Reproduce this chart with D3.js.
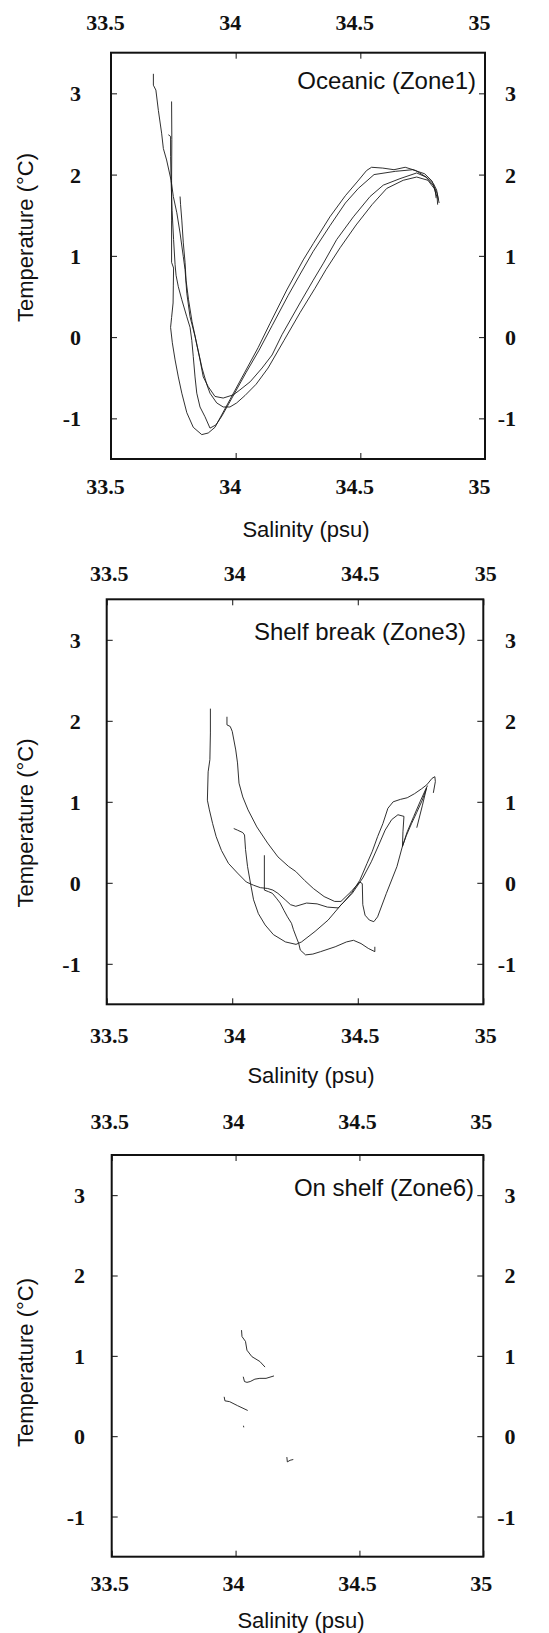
<!DOCTYPE html>
<html>
<head>
<meta charset="utf-8">
<script src="https://cdn.jsdelivr.net/npm/d3@7"></script>
<style>
  html, body { margin: 0; padding: 0; background: #fff; }
  svg { display: block; }
</style>
</head>
<body>
<svg id="chart" width="549" height="1633"></svg>
<script>
// Axis ticks and text
const salinityTicks = [33.5, 34, 34.5, 35];
const temperatureTicks = [-1, 0, 1, 2, 3];
const salinityDomain = [33.5, 35];
const temperatureDomain = [-1.5, 3.5];
const panelTitles = ["Oceanic (Zone1)", "Shelf break (Zone3)", "On shelf (Zone6)"];
const xAxisTitle = "Salinity (psu)";
const yAxisTitle = "Temperature (°C)";

// Zone 1 (oceanic) T-S profiles: [salinity, temperature]
const zone1Profile1 = [[33.743,2.90],[33.744,2.43],[33.743,1.93],[33.743,1.44],[33.743,0.92],[33.751,0.85],[33.750,0.64],[33.749,0.42],[33.743,0.24],[33.739,0.12],[33.746,-0.07],[33.757,-0.28],[33.770,-0.49],[33.784,-0.69],[33.804,-0.93],[33.830,-1.11],[33.864,-1.20],[33.890,-1.18],[33.917,-1.11],[33.977,-0.77],[34.037,-0.43],[34.090,-0.13],[34.138,0.17],[34.205,0.58],[34.271,0.95],[34.311,1.15],[34.378,1.48],[34.440,1.74],[34.490,1.92],[34.525,2.05],[34.545,2.09],[34.590,2.08],[34.635,2.06],[34.680,2.09],[34.722,2.05],[34.764,1.97],[34.793,1.89],[34.806,1.81],[34.813,1.69]];
const zone1Profile2 = [[33.730,2.49],[33.739,2.47],[33.739,2.22],[33.741,1.93],[33.745,1.56],[33.751,1.20],[33.757,0.89],[33.761,0.76],[33.770,0.62],[33.784,0.46],[33.804,0.25],[33.817,0.12],[33.824,-0.04],[33.830,-0.24],[33.837,-0.49],[33.844,-0.69],[33.857,-0.86],[33.877,-0.98],[33.897,-1.12],[33.921,-1.08],[33.945,-0.97],[33.985,-0.75],[34.041,-0.44],[34.094,-0.16],[34.146,0.14],[34.210,0.51],[34.254,0.75],[34.310,1.05],[34.378,1.37],[34.440,1.65],[34.492,1.83],[34.555,2.00],[34.640,2.04],[34.710,2.06],[34.758,2.01],[34.788,1.92],[34.800,1.81],[34.804,1.71]];
const zone1Profile3 = [[33.670,3.24],[33.670,3.10],[33.680,3.04],[33.690,2.79],[33.703,2.51],[33.710,2.32],[33.723,2.18],[33.741,1.93],[33.750,1.73],[33.764,1.53],[33.777,1.28],[33.790,0.99],[33.797,0.83],[33.804,0.54],[33.817,0.25],[33.837,0.01],[33.857,-0.28],[33.870,-0.49],[33.890,-0.61],[33.917,-0.73],[33.950,-0.75],[33.991,-0.71],[34.017,-0.65],[34.058,-0.55],[34.106,-0.38],[34.146,-0.22],[34.186,0.03],[34.258,0.42],[34.311,0.70],[34.352,0.91],[34.405,1.20],[34.472,1.48],[34.539,1.73],[34.592,1.87],[34.659,1.95],[34.726,2.02],[34.763,1.97],[34.792,1.87],[34.808,1.77],[34.816,1.65]];
const zone1Profile4 = [[33.777,1.73],[33.779,1.63],[33.784,1.44],[33.790,1.16],[33.797,0.92],[33.801,0.70],[33.811,0.46],[33.825,0.19],[33.845,-0.10],[33.865,-0.38],[33.885,-0.59],[33.897,-0.69],[33.924,-0.81],[33.950,-0.86],[33.977,-0.86],[34.004,-0.81],[34.037,-0.72],[34.082,-0.58],[34.130,-0.38],[34.194,-0.04],[34.258,0.30],[34.318,0.60],[34.362,0.83],[34.419,1.10],[34.483,1.38],[34.547,1.63],[34.606,1.83],[34.672,1.93],[34.726,1.97],[34.771,1.93],[34.796,1.83],[34.808,1.72],[34.810,1.63]];

// Zone 3 (shelf break) T-S profiles
const zone3Profile1 = [[33.913,2.15],[33.913,1.85],[33.911,1.52],[33.904,1.37],[33.901,1.02],[33.909,0.90],[33.922,0.73],[33.936,0.57],[33.957,0.40],[33.985,0.24],[34.021,0.12],[34.056,0.01],[34.085,-0.03],[34.112,-0.06],[34.141,-0.07],[34.162,-0.09],[34.182,-0.13],[34.211,-0.21],[34.232,-0.27],[34.253,-0.29],[34.296,-0.25],[34.338,-0.26],[34.379,-0.30],[34.422,-0.31],[34.444,-0.24],[34.474,-0.13],[34.508,0.03],[34.537,0.24],[34.558,0.39],[34.579,0.57],[34.600,0.73],[34.620,0.92],[34.641,1.00],[34.670,1.03],[34.697,1.05],[34.726,1.10],[34.754,1.16],[34.775,1.21],[34.796,1.29],[34.807,1.31],[34.809,1.25],[34.801,1.11]];
const zone3Profile2 = [[33.979,2.05],[33.979,1.95],[33.992,1.93],[34.000,1.87],[34.014,1.64],[34.021,1.48],[34.027,1.23],[34.042,1.06],[34.063,0.90],[34.098,0.69],[34.141,0.49],[34.182,0.32],[34.225,0.20],[34.253,0.14],[34.288,0.03],[34.323,-0.07],[34.366,-0.17],[34.408,-0.23],[34.433,-0.23],[34.473,-0.11],[34.508,0.01],[34.518,-0.01],[34.520,-0.27],[34.529,-0.40],[34.546,-0.46],[34.564,-0.48],[34.579,-0.42],[34.614,-0.13],[34.656,0.20],[34.676,0.43],[34.697,0.63],[34.723,0.82],[34.748,1.00],[34.770,1.15],[34.778,1.20]];
const zone3Profile3 = [[34.006,0.67],[34.021,0.65],[34.035,0.63],[34.042,0.62],[34.049,0.59],[34.053,0.41],[34.061,0.20],[34.073,-0.01],[34.085,-0.21],[34.104,-0.38],[34.131,-0.52],[34.164,-0.64],[34.212,-0.73],[34.254,-0.76],[34.276,-0.73],[34.330,-0.60],[34.382,-0.46],[34.434,-0.27],[34.478,-0.13],[34.520,0.06],[34.554,0.26],[34.584,0.47],[34.609,0.65],[34.635,0.78],[34.660,0.84],[34.684,0.82],[34.680,0.63],[34.678,0.45],[34.693,0.58],[34.714,0.73],[34.735,0.87],[34.757,1.02],[34.774,1.17],[34.757,0.95],[34.735,0.68]];
const zone3Profile4 = [[34.128,0.34],[34.128,-0.09],[34.145,-0.11],[34.160,-0.13],[34.176,-0.19],[34.191,-0.25],[34.206,-0.34],[34.220,-0.42],[34.236,-0.50],[34.244,-0.58],[34.255,-0.67],[34.265,-0.75],[34.271,-0.83],[34.292,-0.89],[34.321,-0.88],[34.352,-0.85],[34.410,-0.79],[34.455,-0.73],[34.483,-0.71],[34.513,-0.75],[34.542,-0.81],[34.568,-0.85],[34.568,-0.79]];

// Zone 6 (on shelf) T-S segments
const zone6Segment1 = [[34.024,1.32],[34.026,1.24],[34.040,1.18],[34.046,1.07],[34.066,0.99],[34.098,0.93],[34.119,0.86]];
const zone6Segment2 = [[34.031,0.74],[34.036,0.68],[34.046,0.67],[34.059,0.68],[34.078,0.71],[34.098,0.72],[34.123,0.72],[34.155,0.75]];
const zone6Segment3 = [[33.954,0.49],[33.957,0.44],[33.976,0.43],[34.008,0.38],[34.049,0.32]];
const zone6Segment4 = [[34.032,0.13],[34.033,0.11]];
const zone6Segment5 = [[34.207,-0.26],[34.209,-0.32],[34.220,-0.30],[34.233,-0.29]];

const panelSeries = [
  [zone1Profile1, zone1Profile2, zone1Profile3, zone1Profile4],
  [zone3Profile1, zone3Profile2, zone3Profile3, zone3Profile4],
  [zone6Segment1, zone6Segment2, zone6Segment3, zone6Segment4, zone6Segment5]
];

// Page geometry of each panel
const layout = [
  { left: 111, right: 485, top: 52.7, bottom: 459, labelDx: -6, topLabelY: 22.8, bottomLabelY: 486.7,
    leftLabelEdge: 81, rightLabelEdge: 516, yTitleY: 237.5, xTitleX: 306, xTitleY: 536.7,
    titleRight: 476, titleY: 89.3 },
  { left: 106.7, right: 483.3, top: 599.3, bottom: 1004.3, labelDx: 2, topLabelY: 574, bottomLabelY: 1035.5,
    leftLabelEdge: 80.7, rightLabelEdge: 516, yTitleY: 823, xTitleX: 311, xTitleY: 1082.7,
    titleRight: 466, titleY: 640 },
  { left: 111.7, right: 483.3, top: 1155, bottom: 1556.7, labelDx: -2.5, topLabelY: 1121.5, bottomLabelY: 1584,
    leftLabelEdge: 85, rightLabelEdge: 515.5, yTitleY: 1362.5, xTitleX: 301, xTitleY: 1628.3,
    titleRight: 474, titleY: 1196 }
];

const svg = d3.select("#chart");
svg.append("rect").attr("width", 549).attr("height", 1633).attr("fill", "#fff");

const tickFont = "'Liberation Serif', 'Times New Roman', serif";
const textFont = "'Liberation Sans', Arial, Helvetica, sans-serif";
const fmt = d => String(d);

layout.forEach((p, i) => {
  const x = d3.scaleLinear().domain(salinityDomain).range([p.left, p.right]);
  const y = d3.scaleLinear().domain(temperatureDomain).range([p.bottom, p.top]);
  const g = svg.append("g");

  const styleAxis = sel => {
    sel.select(".domain").remove();
    sel.selectAll(".tick line").attr("stroke", "#111").attr("stroke-width", 1);
    sel.selectAll(".tick text")
      .attr("fill", "#111")
      .style("font-family", tickFont)
      .style("font-weight", "bold")
      .style("font-size", "22px");
  };

  // salinity axes, ticks pointing into the frame
  g.append("g").attr("transform", `translate(0,${p.bottom})`)
    .call(d3.axisBottom(x).tickValues(salinityTicks).tickFormat(fmt).tickSize(-6).tickSizeOuter(0))
    .call(styleAxis)
    .call(a => a.selectAll(".tick text").attr("y", p.bottomLabelY - p.bottom).attr("dy", "0.34em").attr("dx", p.labelDx));

  g.append("g").attr("transform", `translate(0,${p.top})`)
    .call(d3.axisTop(x).tickValues(salinityTicks).tickFormat(fmt).tickSize(-6).tickSizeOuter(0))
    .call(styleAxis)
    .call(a => a.selectAll(".tick text").attr("y", p.topLabelY - p.top).attr("dy", "0.34em").attr("dx", p.labelDx));

  // temperature axes
  g.append("g").attr("transform", `translate(${p.left},0)`)
    .call(d3.axisLeft(y).tickValues(temperatureTicks).tickFormat(fmt).tickSize(-6).tickSizeOuter(0))
    .call(styleAxis)
    .call(a => a.selectAll(".tick text").attr("x", p.leftLabelEdge - p.left).attr("dy", "0.34em").attr("text-anchor", "end"));

  g.append("g").attr("transform", `translate(${p.right},0)`)
    .call(d3.axisRight(y).tickValues(temperatureTicks).tickFormat(fmt).tickSize(-6).tickSizeOuter(0))
    .call(styleAxis)
    .call(a => a.selectAll(".tick text").attr("x", p.rightLabelEdge - p.right).attr("dy", "0.34em").attr("text-anchor", "end"));

  // T-S curves
  const line = d3.line().x(d => x(d[0])).y(d => y(d[1]));
  g.append("g")
    .selectAll("path")
    .data(panelSeries[i])
    .join("path")
    .attr("d", line)
    .attr("fill", "none")
    .attr("stroke", "#1a1a1a")
    .attr("stroke-width", 0.9)
    .attr("stroke-linejoin", "round");

  // frame
  g.append("rect")
    .attr("x", p.left).attr("y", p.top)
    .attr("width", p.right - p.left).attr("height", p.bottom - p.top)
    .attr("fill", "none").attr("stroke", "#111").attr("stroke-width", 2);

  // zone title inside the frame
  g.append("text")
    .attr("x", p.titleRight).attr("y", p.titleY)
    .attr("text-anchor", "end")
    .style("font-family", textFont).style("font-size", "24px")
    .attr("fill", "#111")
    .text(panelTitles[i]);

  // axis titles
  g.append("text")
    .attr("x", p.xTitleX).attr("y", p.xTitleY)
    .attr("text-anchor", "middle")
    .style("font-family", textFont).style("font-size", "22px")
    .attr("fill", "#111")
    .text(xAxisTitle);

  g.append("text")
    .attr("transform", `translate(33,${p.yTitleY}) rotate(-90)`)
    .attr("text-anchor", "middle")
    .style("font-family", textFont).style("font-size", "22px")
    .attr("fill", "#111")
    .text(yAxisTitle);
});
</script>
</body>
</html>
